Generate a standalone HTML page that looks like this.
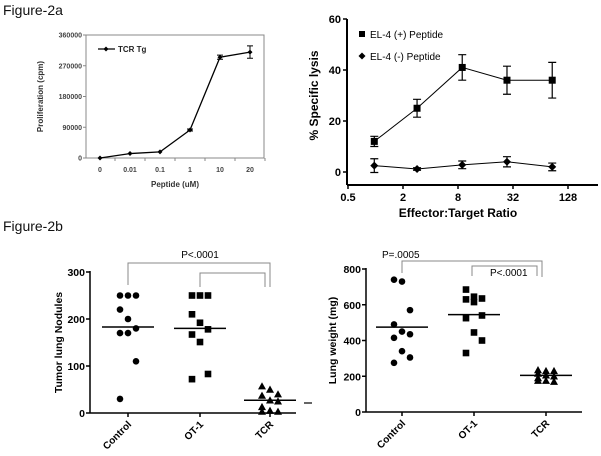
<!DOCTYPE html>
<html><head><meta charset="utf-8"><style>
html,body{margin:0;padding:0;background:#fff;width:601px;height:456px;overflow:hidden}
svg{display:block;font-family:"Liberation Sans",Arial,sans-serif}
</style></head><body>
<svg id="fig" width="601" height="456" viewBox="0 0 601 456">
<text x="3" y="15" font-size="14" fill="#111">Figure-2a</text>
<text x="3" y="231" font-size="14" fill="#111">Figure-2b</text>
</svg>
<script>
// Panel A data
const aCats=["0","0.01","0.1","1","10","20"];
const aVals=[0,13000,18000,82000,295000,310000];
const aErr=[0,2000,2000,3000,6000,18000];
const aTicks=[0,90000,180000,270000,360000];
// Panel B data
const bX=[0.97,2.85,8.9,27.5,86];
const bPlus=[12,25,41,36,36];
const bPlusErr=[2,3.5,5,5.5,7];
const bMinus=[2.5,1.2,2.8,4,2];
const bMinusErr=[2.7,0.5,1.5,2,1.5];
const bXTicks=[0.5,2,8,32,128];
const bYTicks=[0,20,40,60];
// Panel C data
const cCats=["Control","OT-1","TCR"];
const cControl=[250,250,250,220,200,180,170,170,110,30];
const cOT1=[250,250,250,210,192,178,167,151,83,72];
const cTCR=[57,50,40,37,27,25,13,5,3,3];
const cMedians=[183,180,27];
const cYTicks=[0,100,200,300];
// Panel D data
const dControl=[740,730,570,490,450,435,415,340,305,275];
const dOT1=[685,645,635,630,615,540,525,445,400,330];
const dTCR=[235,230,230,215,205,200,175,175,170,190];
const dMedians=[475,545,205];
const dYTicks=[0,200,400,600,800];

const svg=document.getElementById('fig');
const NS='http://www.w3.org/2000/svg';
function mk(tag,attrs,parent){const e=document.createElementNS(NS,tag);for(const k in attrs)e.setAttribute(k,attrs[k]);(parent||svg).appendChild(e);return e;}
function txt(s,attrs,parent){const e=mk('text',attrs,parent);e.textContent=s;return e;}
function marker(shape,x,y,s,g){
  if(shape==='circle')return mk('circle',{cx:x,cy:y,r:s},g);
  if(shape==='square')return mk('rect',{x:x-s,y:y-s,width:2*s,height:2*s},g);
  if(shape==='diamond')return mk('polygon',{points:`${x},${y-s} ${x+s},${y} ${x},${y+s} ${x-s},${y}`},g);
  return mk('polygon',{points:`${x},${y-s} ${x+s},${y+s*0.8} ${x-s},${y+s*0.8}`},g);
}

// ---------- Panel A ----------
{
const g=mk('g',{});


const L=86,R=264,T=35,B=158;
const ya=v=>B-(v/360000)*(B-T);
const xa=i=>100+i*30;
const frame=mk('rect',{x:L,y:T,width:R-L,height:B-T,fill:'none',stroke:'#888','stroke-width':1},g);


aTicks.forEach(t=>{
  mk('line',{x1:L-3,x2:L,y1:ya(t),y2:ya(t),stroke:'#888'},g);
  const e=txt(String(t),{x:L-4,y:ya(t)+2.5,'font-size':7,'font-weight':'bold','text-anchor':'end',fill:'#444'},g);
  
  
});
aCats.forEach((c,i)=>{
  mk('line',{x1:xa(i)+15,x2:xa(i)+15,y1:B,y2:B+3,stroke:'#888'},g);
  const e=txt(c,{x:xa(i),y:B+14,'font-size':7,'font-weight':'bold','text-anchor':'middle',fill:'#444'},g);
  
  
});
mk('line',{x1:L-3,x2:L,y1:B,y2:B,stroke:'#888'},g);
const pts=aVals.map((v,i)=>`${xa(i)},${ya(v)}`).join(' ');
const ln=mk('polyline',{points:pts,fill:'none',stroke:'#000','stroke-width':1.3},g);


aVals.forEach((v,i)=>{
  if(aErr[i]>2500){const x=xa(i);
    mk('path',{d:`M${x},${ya(v+aErr[i])}V${ya(v-aErr[i])}M${x-3},${ya(v+aErr[i])}h6M${x-3},${ya(v-aErr[i])}h6`,stroke:'#000',fill:'none'},g);}
  const m=marker('diamond',xa(i),ya(v),2.5,g);
  
  
});
mk('line',{x1:98,x2:115,y1:49,y2:49,stroke:'#000','stroke-width':1.3},g);
marker('diamond',106,49,2.5,g);
const lg=txt('TCR Tg',{x:118,y:52,'font-size':8,'font-weight':'bold',fill:'#222'},g);


const yt=txt('Proliferation (cpm)',{x:0,y:0,'font-size':8,'font-weight':'bold',fill:'#333','text-anchor':'middle',transform:`translate(43,${(T+B)/2}) rotate(-90)`},g);


const xt=txt('Peptide (uM)',{x:175,y:187,'font-size':8,'font-weight':'bold',fill:'#333','text-anchor':'middle'},g);


}

// ---------- Panel B ----------
{
const g=mk('g',{});


const L=347,B=172,T=19,AX=185;
const ya=v=>B-(v/60)*(B-T);
const xa=v=>348+(Math.log2(v)+1)*27.5;
mk('line',{x1:L,x2:L,y1:T,y2:AX,stroke:'#000','stroke-width':2},g);
mk('line',{x1:L,x2:598,y1:AX,y2:AX,stroke:'#000','stroke-width':2},g);
bYTicks.forEach(t=>{
  mk('line',{x1:L-4,x2:L,y1:ya(t),y2:ya(t),stroke:'#000','stroke-width':1.5},g);
  const e=txt(String(t),{x:L-6,y:ya(t)+4,'font-size':11,'font-weight':'bold','text-anchor':'end'},g);
  
  
});
bXTicks.forEach(t=>{
  mk('line',{x1:xa(t),x2:xa(t),y1:AX,y2:AX+4,stroke:'#000','stroke-width':1.5},g);
  const e=txt(String(t),{x:xa(t),y:AX+16,'font-size':11,'font-weight':'bold','text-anchor':'middle'},g);
  
  
});
[[bPlus,bPlusErr,'square','el4-plus-peptide'],[bMinus,bMinusErr,'diamond','el4-minus-peptide']].forEach(([vals,errs,shape,name])=>{
  const l=mk('polyline',{points:vals.map((v,i)=>`${xa(bX[i])},${ya(v)}`).join(' '),fill:'none',stroke:'#000','stroke-width':1},g);
  
  
  vals.forEach((v,i)=>{const x=xa(bX[i]);
    mk('path',{d:`M${x},${ya(v+errs[i])}V${ya(v-errs[i])}M${x-4},${ya(v+errs[i])}h8M${x-4},${ya(v-errs[i])}h8`,stroke:'#000','stroke-width':1.2,fill:'none'},g);
    const m=marker(shape,x,ya(v),shape==='square'?3.5:4,g);
    
    
  });
});
marker('square',362,34,3,g);
const l1=txt('EL-4 (+) Peptide',{x:370,y:38,'font-size':10},g);


marker('diamond',362,56,3.5,g);
const l2=txt('EL-4 (-) Peptide',{x:370,y:60,'font-size':10},g);


const yt=txt('% Specific lysis',{'font-size':12,'font-weight':'bold','text-anchor':'middle',transform:`translate(318,${(T+B)/2}) rotate(-90)`},g);


const xt=txt('Effector:Target Ratio',{x:458,y:217,'font-size':12,'font-weight':'bold','text-anchor':'middle'},g);


}

// ---------- dot plots ----------
function dotPlot(o){
  const g=mk('g',{});
  
  
  const ya=v=>o.B-(v/o.max)*(o.B-o.T);
  mk('line',{x1:o.L,x2:o.L,y1:o.T-1,y2:o.B,stroke:'#000','stroke-width':1.5},g);
  mk('line',{x1:o.L,x2:o.R,y1:o.B,y2:o.B,stroke:'#000','stroke-width':1.5},g);
  o.ticks.forEach(t=>{
    mk('line',{x1:o.L-4,x2:o.L,y1:ya(t),y2:ya(t),stroke:'#000','stroke-width':1.5},g);
    const e=txt(String(t),{x:o.L-5,y:ya(t)+4,'font-size':10.5,'font-weight':'bold','text-anchor':'end'},g);
    
    
  });
  o.series.forEach((vals,ci)=>{
    const cx=o.xs[ci];
    mk('line',{x1:cx,x2:cx,y1:o.B,y2:o.B+4,stroke:'#000','stroke-width':1.5},g);
    const lab=txt(cCats[ci],{'font-size':10,'font-weight':'bold','text-anchor':'end',transform:`translate(${cx+4},${o.B+12}) rotate(-45)`},g);
    
    
    const med=mk('line',{x1:cx-26,x2:cx+26,y1:ya(o.medians[ci]),y2:ya(o.medians[ci]),stroke:'#000','stroke-width':1.5},g);
    
    
    vals.forEach((v,i)=>{
      const off=((i%3)-1)*8;
      const m=marker(o.shapes[ci],cx+off,ya(v),o.shapes[ci]==='triangle'?4:3.3,g);
      
      
    });
  });
  const yt=txt(o.ytitle,{'font-size':10.5,'font-weight':'bold','text-anchor':'middle',transform:`translate(${o.ytx},${(o.T+o.B)/2}) rotate(-90)`},g);
  
  
  return g;
}
const gc=dotPlot({name:'tumor-nodules-chart',L:90,R:296,T:272,B:413,max:300,ticks:cYTicks,xs:[128,200,270],series:[cControl,cOT1,cTCR],medians:cMedians,shapes:['circle','square','triangle'],ytitle:'Tumor lung Nodules',ytx:62});
{const b=mk('path',{d:'M128,285V263H270V287M200,287V273H265V287',fill:'none',stroke:'#888','stroke-width':1},gc);


const p=txt('P<.0001',{x:200,y:258,'font-size':10,'text-anchor':'middle'},gc);

}
const gd=dotPlot({name:'lung-weight-chart',L:366,R:582,T:269,B:412,max:800,ticks:dYTicks,xs:[402,474,546],series:[dControl,dOT1,dTCR],medians:dMedians,shapes:['circle','square','triangle'],ytitle:'Lung weight (mg)',ytx:336});
{const b=mk('path',{d:'M402,273V261H542V277M472,276V266H537V276',fill:'none',stroke:'#888','stroke-width':1},gd);


const p1=txt('P=.0005',{x:382,y:258,'font-size':10},gd);


const p2=txt('P<.0001',{x:490,y:276,'font-size':10},gd);

}
mk('line',{x1:304,x2:312,y1:403,y2:403,stroke:'#333','stroke-width':1.5});
</script>
</body></html>
